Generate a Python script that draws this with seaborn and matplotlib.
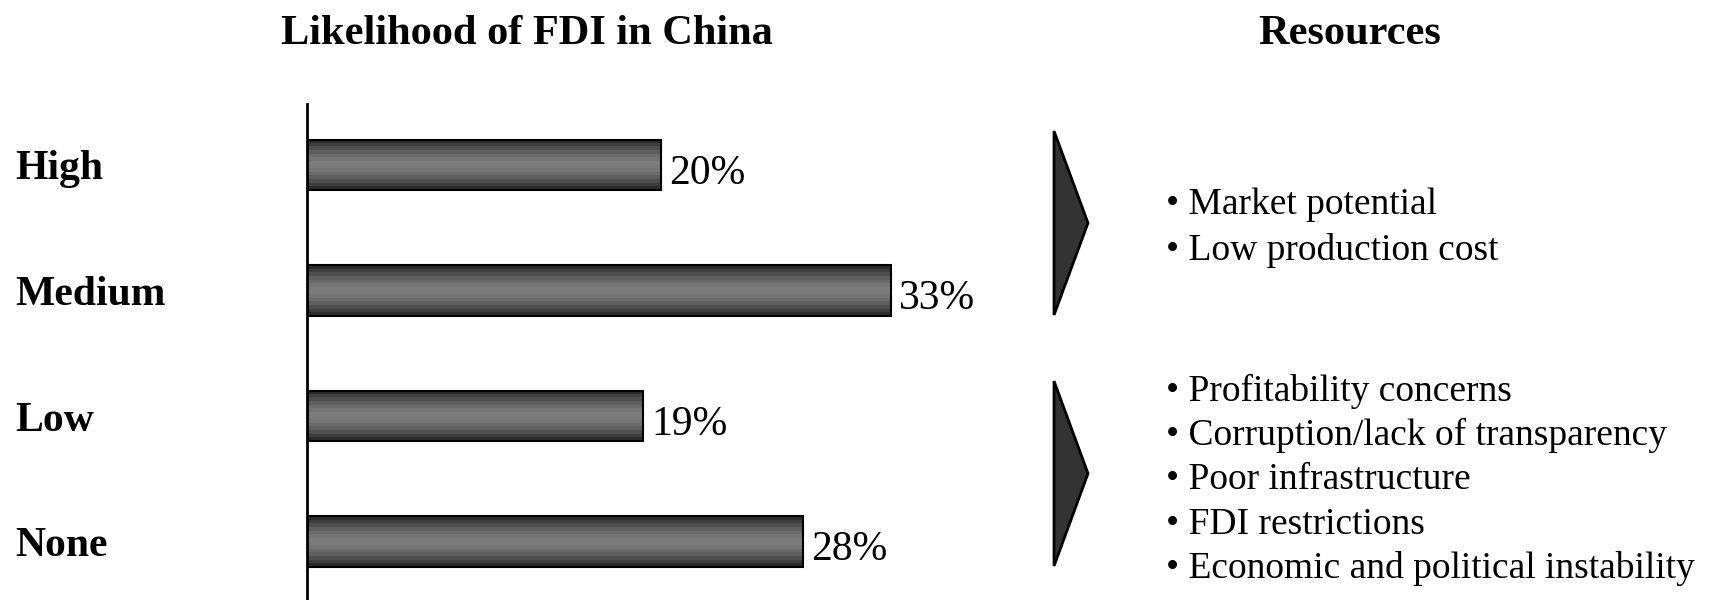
import numpy as np
import pandas as pd
import matplotlib
matplotlib.use("Agg")
import matplotlib.pyplot as plt
from matplotlib.patches import Polygon
import seaborn as sns

# Survey results
categories = ["High", "Medium", "Low", "None"]
shares = [20, 33, 19, 28]
value_labels = ["20%", "33%", "19%", "28%"]

chart_title = "Likelihood of FDI in China"
side_title = "Resources"
drivers = ["Market potential", "Low production cost"]
barriers = [
    "Profitability concerns",
    "Corruption/lack of transparency",
    "Poor infrastructure",
    "FDI restrictions",
    "Economic and political instability",
]

sns.set_theme(style="white")
plt.rcParams["font.family"] = ["Liberation Serif", "DejaVu Serif"]

W, H = 1715, 600
fig = plt.figure(figsize=(W / 100, H / 100), dpi=100)
fig.patch.set_facecolor("white")


def fx(px):
    return px / W


def fy(py):
    return 1 - py / H


# Bar panel
ax_left, ax_top = 307, 104
ax_w = 708
ax = fig.add_axes([fx(ax_left), 0, fx(ax_w), (H - ax_top) / H])
df = pd.DataFrame({"category": categories, "share": shares})
sns.barplot(data=df, x="share", y="category", orient="h", ax=ax,
            width=0.406, facecolor="none", edgecolor="black", linewidth=1.5)

ax.set_xlim(0, 40)
ax.set_ylim(3.466, -0.486)
ax.set_xlabel("")
ax.set_ylabel("")
ax.set_xticks([])
for side in ["top", "right", "bottom"]:
    ax.spines[side].set_visible(False)
ax.spines["left"].set_color("black")
ax.spines["left"].set_linewidth(2)
ax.spines["left"].set_zorder(5)
ax.set_facecolor("white")

ax.tick_params(axis="y", length=0, pad=(ax_left - 15) * 0.72)
for lbl in ax.get_yticklabels():
    lbl.set_ha("left")
    lbl.set_fontsize(30)
    lbl.set_fontweight("bold")
    lbl.set_color("black")

# Cylinder-like shading inside each bar
steps = np.linspace(-1, 1, 14)
shade = 0.17 + 0.32 * (1 - np.abs(steps) ** 1.6)
grad = shade.reshape(-1, 1)
for patch in ax.patches:
    x0, y0 = patch.get_x(), patch.get_y()
    w, h = patch.get_width(), patch.get_height()
    im = ax.imshow(grad, cmap="gray", vmin=0, vmax=1, aspect="auto",
                   extent=(x0, x0 + w, y0 + h, y0), interpolation="nearest",
                   zorder=1)
    im.set_clip_path(patch)
    patch.set_zorder(2)

anns = ax.bar_label(ax.containers[0], labels=value_labels, padding=5,
                    fontsize=30, color="black")
for a in anns:
    a.xyann = (6, -6)

# Titles
fig.text(fx(527), fy(34), chart_title, ha="center", va="center",
         fontsize=30.5, fontweight="bold", color="black")
fig.text(fx(1350), fy(34), side_title, ha="center", va="center",
         fontsize=30.5, fontweight="bold", color="black")

# Chevron markers
for top, bottom in [(131, 315), (381, 566)]:
    mid = (top + bottom) / 2
    poly = Polygon([(fx(1054), fy(top)), (fx(1088), fy(mid)),
                    (fx(1054), fy(bottom))], closed=True,
                   transform=fig.transFigure, facecolor="#333333",
                   edgecolor="black", linewidth=2)
    fig.add_artist(poly)

# Bullet lists
for i, item in enumerate(drivers):
    fig.text(fx(1166), fy(205 + 45.5 * i), "\u2022 " + item, ha="left",
             va="center", fontsize=27, color="black")
for i, item in enumerate(barriers):
    fig.text(fx(1166), fy(391 + 44.5 * i), "\u2022 " + item, ha="left",
             va="center", fontsize=27, color="black")

fig.savefig("out.png", dpi=100, facecolor="white")
